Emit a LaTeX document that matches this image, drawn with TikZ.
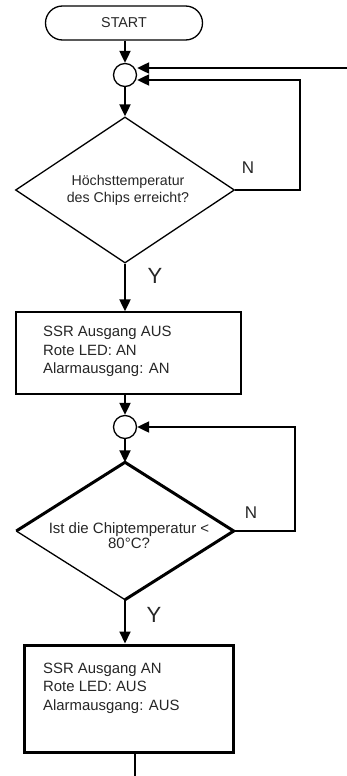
\documentclass[tikz,border=0pt]{standalone}
\usepackage{fontspec}
\setmainfont{Liberation Sans}
\usetikzlibrary{arrows.meta,shapes.geometric}
\begin{document}
\begin{tikzpicture}[x=1pt,y=-1pt,
  every node/.style={text=black!85},
  thinline/.style={line width=1.3pt},
  arr/.style={line width=2pt,-{Triangle[length=12pt,width=11pt]}},
  flow/.style={line width=2pt},
  terminal/.style={draw,thinline,rounded corners=17pt,minimum width=157pt,minimum height=34pt,inner sep=0pt,font=\fontsize{14.3}{17}\selectfont},
  joint/.style={draw,thinline,circle,minimum size=23pt,inner sep=0pt},
  decision/.style={draw,diamond,inner sep=0pt},
  procbox/.style={draw,rectangle,inner sep=0pt},
  boxtext/.style={anchor=west,align=left,inner sep=0pt,font=\fontsize{14.9}{18.5}\selectfont},
  dtext/.style={align=center,inner sep=0pt},
  yn/.style={inner sep=0pt}
]
\useasboundingbox (0,0) rectangle (347,776);

\node[terminal] (s) at (124,23) {START};
\node[joint] (c1) at (125,75) {};
\node[decision,thinline,minimum width=219pt,minimum height=146pt] (d1) at (125,190) {};
\node[dtext,font=\fontsize{14.2}{17}\selectfont] (t1) at (128,190) {Höchsttemperatur\\des Chips erreicht?};
\node[yn,font=\fontsize{17}{17}\selectfont] (n1) at (248,168) {N};
\node[yn,font=\fontsize{22}{22}\selectfont] (y1) at (155,276) {Y};

\node[procbox,thinline,minimum width=225pt,minimum height=82pt] (b1) at (128.5,353) {};
\node[boxtext] (bt1) at (43,351.5) {SSR Ausgang AUS\\Rote LED: AN\\Alarmausgang: AN};

\node[joint] (c2) at (125,427) {};
\node[decision,draw=none,minimum width=217pt,minimum height=137pt] (d2) at (125,531) {};
\draw[line width=3pt,line join=miter] (d2.west) -- (d2.north) -- (d2.east) -- (d2.south);
\draw[thinline] (d2.south) -- (d2.west);
\node[dtext,font=\fontsize{15}{15.5}\selectfont] (t2) at (129,535.5) {Ist die Chiptemperatur <\\80°C?};
\node[yn,font=\fontsize{17}{17}\selectfont] (n2) at (251,513) {N};
\node[yn,font=\fontsize{22}{22}\selectfont] (y2) at (154,615) {Y};

\node[procbox,line width=3pt,minimum width=209pt,minimum height=107pt] (b2) at (128.5,698.5) {};
\node[boxtext] (bt2) at (43,688) {SSR Ausgang AN\\Rote LED: AUS\\Alarmausgang: AUS};

% connectors
\coordinate (inTop) at (347,68);
\coordinate (loop1) at (300,80);
\coordinate (loop2) at (295,427);
\coordinate (endpt) at (135,776);

\draw[arr] (s.south -| c1.north) -- (c1.north);
\draw[arr] (inTop) -- (inTop -| c1.east);
\draw[arr] (d1.east) -| (loop1) -- (loop1 -| c1.east);
\draw[arr] (c1.south) -- (d1.north);
\draw[arr] (d1.south) -- (d1.south |- b1.north);
\draw[arr] (b1.south -| c2.north) -- (c2.north);
\draw[arr] (c2.south) -- (d2.north);
\draw[arr] (d2.east) -| (loop2) -- (c2.east);
\draw[arr] (d2.south) -- (d2.south |- b2.north);
\draw[flow] (endpt |- b2.south) -- (endpt);
\end{tikzpicture}
\end{document}
